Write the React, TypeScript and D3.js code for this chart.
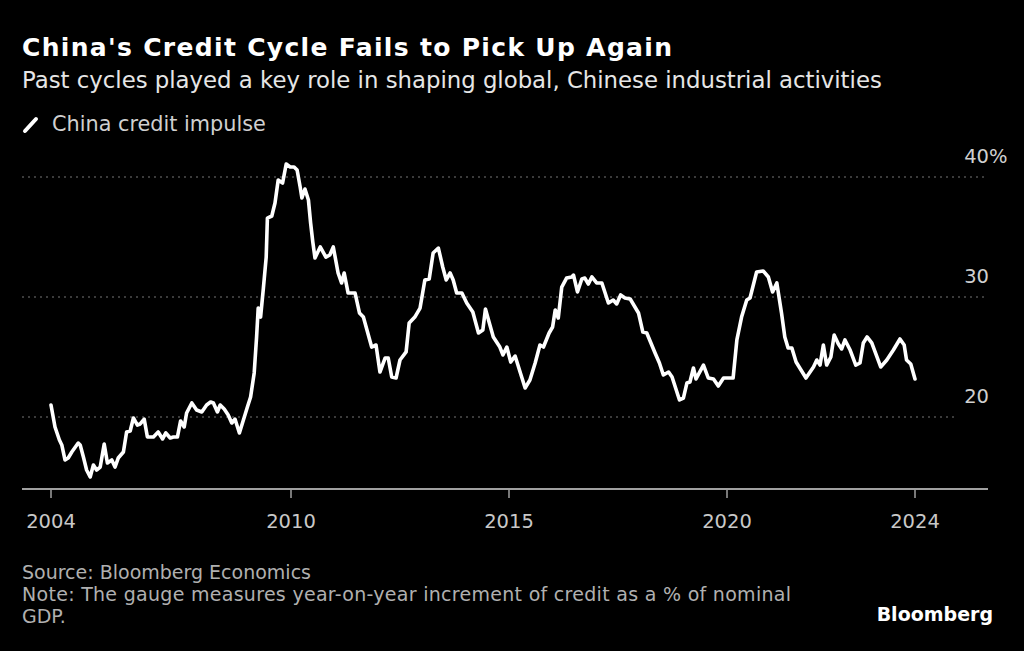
import React from "react";
import * as d3 from "d3";

// China credit impulse, % of GDP — [decimal year, value]
const years: number[] = [
  2004.0, 2004.1, 2004.21, 2004.27, 2004.35, 2004.43, 2004.52, 2004.68, 2004.73, 2004.81, 2004.89, 2004.98,
  2005.06, 2005.14, 2005.23, 2005.33, 2005.41, 2005.52, 2005.6, 2005.68, 2005.81, 2005.89, 2005.98,
  2006.06, 2006.16, 2006.23, 2006.33, 2006.41, 2006.56, 2006.68, 2006.79, 2006.87, 2006.98,
  2007.06, 2007.16, 2007.24, 2007.33, 2007.39, 2007.52, 2007.64, 2007.77, 2007.89, 2007.99,
  2008.06, 2008.16, 2008.23, 2008.33, 2008.43, 2008.52, 2008.6, 2008.71, 2008.81, 2008.91, 2008.99,
  2009.08, 2009.14, 2009.18, 2009.24, 2009.31, 2009.38, 2009.41, 2009.52, 2009.6, 2009.68, 2009.79, 2009.88, 2009.98,
  2010.07, 2010.14, 2010.21, 2010.25, 2010.32, 2010.4, 2010.45, 2010.5, 2010.55, 2010.67, 2010.8, 2010.89, 2010.97,
  2011.08, 2011.16, 2011.22, 2011.31, 2011.47, 2011.57, 2011.66, 2011.85, 2011.95,
  2012.04, 2012.16, 2012.23, 2012.31, 2012.41, 2012.5, 2012.64, 2012.71, 2012.84, 2012.96,
  2013.07, 2013.17, 2013.26, 2013.38, 2013.48, 2013.56, 2013.65, 2013.72, 2013.8, 2013.92,
  2014.03, 2014.17, 2014.3, 2014.4, 2014.46, 2014.53, 2014.64, 2014.79, 2014.86, 2014.95,
  2015.04, 2015.14, 2015.24, 2015.37, 2015.48, 2015.6, 2015.71, 2015.79, 2015.92,
  2016.0, 2016.06, 2016.13, 2016.21, 2016.32, 2016.44, 2016.48, 2016.57, 2016.67, 2016.74, 2016.82, 2016.9,
  2017.01, 2017.13, 2017.28, 2017.39, 2017.47, 2017.56, 2017.66, 2017.78, 2017.97,
  2018.07, 2018.16, 2018.35, 2018.45, 2018.54, 2018.66, 2018.74, 2018.91,
  2019.0, 2019.08, 2019.15, 2019.23, 2019.29, 2019.46, 2019.57, 2019.69, 2019.8, 2019.92,
  2020.13, 2020.21, 2020.31, 2020.42, 2020.49, 2020.63, 2020.77, 2020.88, 2020.97,
  2021.06, 2021.16, 2021.23, 2021.3, 2021.38, 2021.47, 2021.68, 2021.84, 2021.91, 2021.98,
  2022.05, 2022.12, 2022.21, 2022.28, 2022.37, 2022.44, 2022.51, 2022.62, 2022.74, 2022.83, 2022.9, 2022.98,
  2023.08, 2023.27, 2023.4, 2023.54, 2023.68, 2023.77, 2023.82, 2023.91, 2024.0,
];

const impulse: number[] = [
  21.0, 19.17, 18.08, 17.67, 16.42, 16.58, 17.08, 17.83, 17.67, 16.67, 15.58, 15.0,
  16.0, 15.58, 15.83, 17.75, 16.17, 16.42, 15.83, 16.58, 17.08, 18.75, 18.83,
  19.92, 19.33, 19.42, 19.83, 18.33, 18.33, 18.75, 18.17, 18.67, 18.25,
  18.33, 18.33, 19.67, 19.17, 20.33, 21.17, 20.58, 20.42, 21.0, 21.25,
  21.17, 20.42, 21.0, 20.67, 20.17, 19.5, 19.83, 18.67, 19.75, 20.83, 21.67,
  23.67, 26.67, 29.08, 28.33, 30.75, 33.33, 36.58, 36.75, 37.83, 39.75, 39.5, 41.08, 40.83,
  40.83, 40.58, 39.17, 38.25, 39.0, 38.08, 36.17, 34.58, 33.25, 34.17, 33.33, 33.5, 34.17,
  32.0, 31.17, 32.0, 30.33, 30.33, 28.67, 28.33, 25.83, 26.0,
  23.75, 24.92, 24.92, 23.33, 23.25, 24.75, 25.42, 27.83, 28.33, 29.08,
  31.42, 31.5, 33.67, 34.08, 32.5, 31.42, 32.0, 31.42, 30.33, 30.33,
  29.5, 28.75, 27.0, 27.25, 29.0, 28.08, 26.67, 25.83, 25.17, 25.83,
  24.58, 25.08, 23.92, 22.42, 23.08, 24.5, 26.0, 25.83, 27.0,
  27.5, 28.92, 28.25, 30.83, 31.58, 31.67, 31.83, 30.42, 31.5, 31.58, 31.08, 31.67,
  31.17, 31.17, 29.5, 29.75, 29.42, 30.17, 29.92, 29.83, 28.67,
  27.08, 27.0, 25.33, 24.5, 23.5, 23.75, 23.33, 21.42,
  21.58, 22.83, 22.92, 24.08, 23.17, 24.33, 23.25, 23.17, 22.58, 23.25,
  23.25, 26.42, 28.33, 29.75, 29.92, 32.08, 32.17, 31.67, 30.42,
  31.17, 28.67, 26.67, 25.75, 25.75, 24.58, 23.25, 24.17, 24.75, 24.33,
  26.0, 24.33, 25.0, 26.83, 26.08, 25.67, 26.42, 25.58, 24.33, 24.5, 26.17, 26.67,
  26.17, 24.17, 24.75, 25.58, 26.5, 26.0, 24.75, 24.42, 23.17,
];

const xTicks: number[] = [2004, 2010, 2015, 2020, 2024];
const yTicks: number[] = [20, 30, 40];

const title = "China's Credit Cycle Fails to Pick Up Again";
const subtitle = "Past cycles played a key role in shaping global, Chinese industrial activities";
const legendLabel = "China credit impulse";
const source = "Source: Bloomberg Economics";
const noteLines = [
  "Note: The gauge measures year-on-year increment of credit as a % of nominal",
  "GDP.",
];

const W = 1024;
const H = 651;
const FONT = "'DejaVu Sans', Verdana, sans-serif";

export default function App() {
  const x = d3.scaleLinear().domain(xTicks).range([51, 291, 509, 727, 915]);
  const y = d3.scaleLinear().domain([14, 40]).range([489, 177]);
  const data = years.map((yr, i) => [yr, impulse[i]] as [number, number]);
  const line = d3
    .line<[number, number]>()
    .x((d) => x(d[0]))
    .y((d) => y(d[1]));

  return (
    <svg
      width={W}
      height={H}
      style={{ position: "fixed", left: 0, top: 0, background: "#000" }}
      fontFamily={FONT}
    >
      <rect x={0} y={0} width={W} height={H} fill="#000" />
      <text x={22} y={56} fill="#fff" fontSize={25} fontWeight="bold" textLength={650} lengthAdjust="spacing">
        {title}
      </text>
      <text x={22} y={88} fill="#e6e6e6" fontSize={22.8}>
        {subtitle}
      </text>

      {/* legend */}
      <line x1={25} y1={131} x2={36} y2={119} stroke="#fff" strokeWidth={4} strokeLinecap="round" />
      <text x={52} y={131} fill="#d0d0d0" fontSize={20.8}>
        {legendLabel}
      </text>

      {/* gridlines and y labels */}
      {yTicks.map((t, i) => (
        <g key={t}>
          <line
            x1={22}
            x2={i === 0 ? 955 : 987}
            y1={y(t)}
            y2={y(t)}
            stroke="#777"
            strokeWidth={1.2}
            strokeDasharray="2,4"
          />
          <text x={989} y={y(t) - 14} fill="#d0d0d0" fontSize={19.5} textAnchor="end">
            {t}
          </text>
          {i === yTicks.length - 1 && (
            <text x={989} y={y(t) - 14} fill="#d0d0d0" fontSize={19.5}>
              %
            </text>
          )}
        </g>
      ))}

      {/* x axis */}
      <line x1={22} x2={988} y1={489} y2={489} stroke="#a0a0a0" strokeWidth={2} />
      {xTicks.map((t) => (
        <g key={t}>
          <line x1={x(t)} x2={x(t)} y1={489} y2={498} stroke="#a0a0a0" strokeWidth={1.5} />
          <text x={x(t)} y={528} fill="#c8c8c8" fontSize={19.5} textAnchor="middle">
            {t}
          </text>
        </g>
      ))}

      {/* series */}
      <path
        d={line(data) || ""}
        fill="none"
        stroke="#fff"
        strokeWidth={3.6}
        strokeLinejoin="round"
        strokeLinecap="round"
      />

      {/* footer */}
      <text x={22} y={579} fill="#b0b0b0" fontSize={19}>
        {source}
      </text>
      {noteLines.map((l, i) => (
        <text key={i} x={22} y={601 + i * 22} fill="#b0b0b0" fontSize={19} textLength={i === 0 ? 769 : undefined} lengthAdjust="spacing">
          {l}
        </text>
      ))}
      <text x={993} y={621} fill="#fff" fontSize={19} fontWeight="bold" textAnchor="end">
        Bloomberg
      </text>
    </svg>
  );
}
